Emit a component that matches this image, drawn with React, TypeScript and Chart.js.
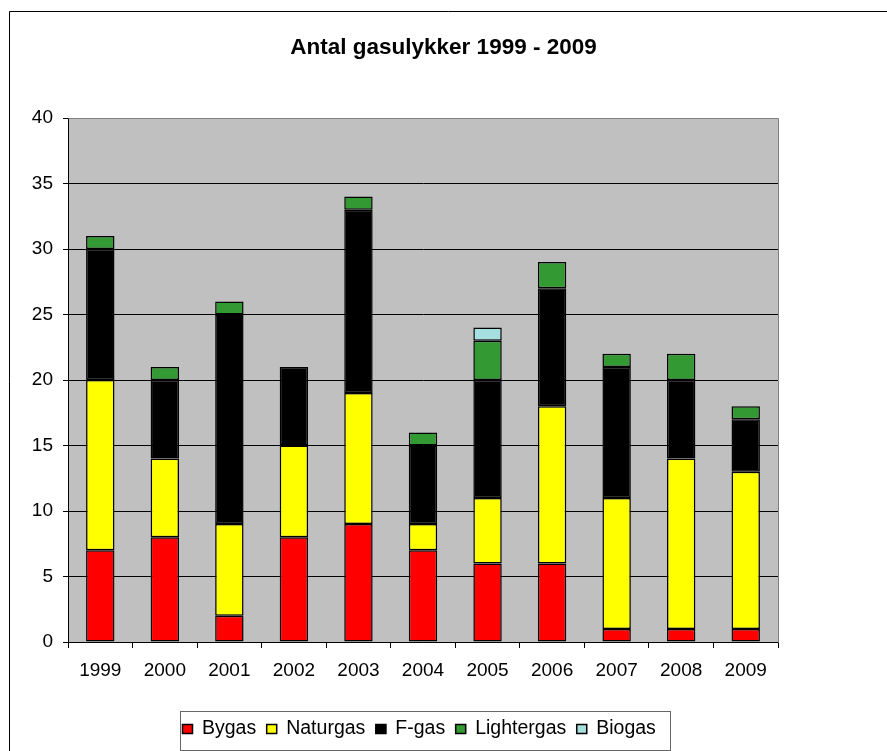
import React, { useEffect, useRef } from "react";
import { Chart, registerables } from "chart.js";

Chart.register(...registerables);

const years = ["1999", "2000", "2001", "2002", "2003", "2004", "2005", "2006", "2007", "2008", "2009"];
const bygas = [7, 8, 2, 8, 9, 7, 6, 6, 1, 1, 1];
const naturgas = [13, 6, 7, 7, 10, 2, 5, 12, 10, 13, 12];
const fgas = [10, 6, 16, 6, 14, 6, 9, 9, 10, 6, 4];
const lightergas = [1, 1, 1, null, 1, 1, 3, 2, 1, 2, 1];
const biogas = [null, null, null, null, null, null, 1, null, null, null, null];
const yTicks = [0, 5, 10, 15, 20, 25, 30, 35, 40];

const seriesNames = ["Bygas", "Naturgas", "F-gas", "Lightergas", "Biogas"];
const seriesColors = ["#FF0000", "#FFFF00", "#000000", "#339933", "#A6DFDF"];
const titleText = "Antal gasulykker 1999 - 2009";

const FONT = '"Liberation Sans", Arial, sans-serif';

const decorPlugin = {
  id: "decor",
  beforeDraw(chart: any) {
    const { ctx, chartArea } = chart;
    ctx.save();
    ctx.fillStyle = "#FFFFFF";
    ctx.fillRect(0, 0, chart.width, chart.height);
    ctx.fillStyle = "#C0C0C0";
    ctx.fillRect(chartArea.left, chartArea.top, chartArea.right - chartArea.left, chartArea.bottom - chartArea.top);
    ctx.restore();
  },
  afterDraw(chart: any) {
    const { ctx, chartArea } = chart;
    ctx.save();
    ctx.strokeStyle = "#808080";
    ctx.lineWidth = 1;
    ctx.beginPath();
    ctx.moveTo(Math.round(chartArea.left) + 0.5, Math.round(chartArea.top) + 0.5);
    ctx.lineTo(Math.round(chartArea.right) + 0.5, Math.round(chartArea.top) + 0.5);
    ctx.lineTo(Math.round(chartArea.right) + 0.5, Math.round(chartArea.bottom) + 0.5);
    ctx.stroke();
    ctx.strokeStyle = "#000000";
    ctx.beginPath();
    ctx.moveTo(9.5, chart.height + 5);
    ctx.lineTo(9.5, 11.5);
    ctx.lineTo(chart.width + 5, 11.5);
    ctx.stroke();
    ctx.fillStyle = "#000000";
    ctx.font = `bold 22.5px ${FONT}`;
    ctx.textAlign = "center";
    ctx.textBaseline = "middle";
    ctx.fillText(titleText, 443.5, 48);
    const bx = 180.5, by = 711.5, bw = 490, bh = 39;
    ctx.strokeStyle = "#666666";
    ctx.strokeRect(bx, by, bw, bh);
    ctx.font = `19.5px ${FONT}`;
    ctx.textAlign = "left";
    ctx.textBaseline = "middle";
    const datasets = chart.data.datasets;
    let x = 182;
    datasets.forEach((ds: any) => {
      ctx.fillStyle = ds.backgroundColor;
      ctx.fillRect(x, 724, 11, 10);
      ctx.strokeStyle = "#000000";
      ctx.lineWidth = 1.5;
      ctx.strokeRect(x + 0.5, 724.5, 10, 9);
      const tx = x + 20;
      ctx.fillStyle = "#000000";
      ctx.fillText(ds.label, tx, 729);
      x = tx + ctx.measureText(ds.label).width + 10;
    });
    ctx.restore();
  },
};

export default function App() {
  const ref = useRef<HTMLCanvasElement | null>(null);
  useEffect(() => {
    document.body.style.margin = "0";
    const canvas = ref.current!;
    const values = [bygas, naturgas, fgas, lightergas, biogas];
    const chart = new Chart(canvas, {
      type: "bar",
      data: {
        labels: years,
        datasets: values.map((v, i) => ({
          label: seriesNames[i],
          data: v as any,
          backgroundColor: seriesColors[i],
          borderColor: "#000000",
          borderWidth: 1.5,
          borderSkipped: false,
          categoryPercentage: 1,
          barPercentage: 0.44,
        })),
      },
      options: {
        responsive: false,
        animation: false,
        devicePixelRatio: 1,
        layout: { padding: { left: 0, right: 109, top: 118, bottom: 49 } },
        plugins: { legend: { display: false }, title: { display: false }, tooltip: { enabled: false } },
        scales: {
          x: {
            stacked: true,
            afterFit: (s: any) => { s.height = 60; },
            grid: { drawOnChartArea: false, drawTicks: true, tickLength: 6, color: "#000000", offset: true },
            border: { color: "#000000" },
            ticks: { color: "#000000", font: { family: FONT, size: 19 }, padding: 11, maxRotation: 0 },
          },
          y: {
            stacked: true,
            min: 0,
            max: 40,
            afterFit: (s: any) => { s.width = 68; },
            afterBuildTicks: (s: any) => { s.ticks = yTicks.map((v) => ({ value: v })); },
            grid: {
              color: (c: any) => (c.tick && c.tick.value === 40 ? "#808080" : "#000000"),
              tickColor: "#000000",
              tickLength: 5,
            },
            border: { color: "#000000" },
            ticks: { color: "#000000", font: { family: FONT, size: 19 }, padding: 10 },
          },
        },
      },
      plugins: [decorPlugin],
    });
    return () => chart.destroy();
  }, []);
  return <canvas ref={ref} width={887} height={751} style={{ display: "block" }} />;
}
